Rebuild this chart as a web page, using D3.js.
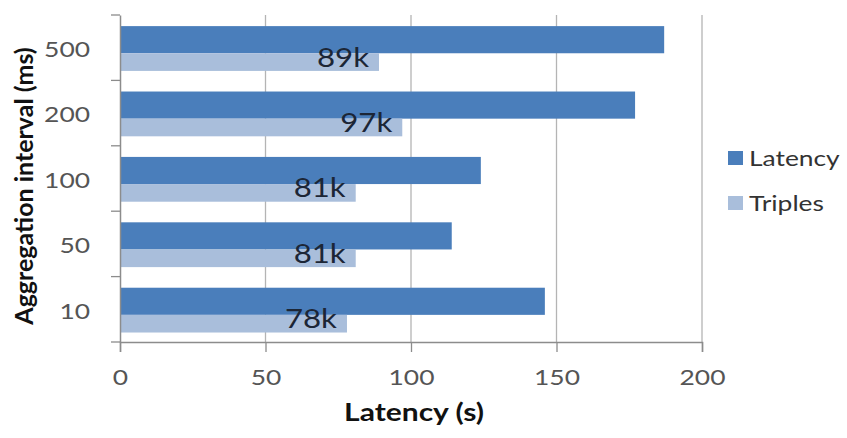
<!DOCTYPE html>
<html>
<head>
<meta charset="utf-8">
<script src="https://cdn.jsdelivr.net/npm/d3@7"></script>
<style>
  body { margin: 0; background: #fff; }
  text { font-family: Lato, "Open Sans", sans-serif; }
</style>
</head>
<body>
<svg id="chart" width="847" height="438"></svg>
<script>
// Aggregation interval categories (top to bottom) and the two series
const categories = ["500", "200", "100", "50", "10"];
const latency = [187, 177, 124, 114, 146];
const triples = [89, 97, 81, 81, 78];
const tripleLabels = ["89k", "97k", "81k", "81k", "78k"];
const xTicks = [0, 50, 100, 150, 200];
const seriesNames = ["Latency", "Triples"];
const seriesColors = ["#4A7EBB", "#A9BEDB"];

const svg = d3.select("#chart");
const SX = 1.2; // horizontal widening applied to horizontal text

const x = d3.scaleLinear().domain([0, 200]).range([120, 702]);
const y = d3.scaleBand().domain(categories).range([15, 342]).padding(0);
const bw = y.bandwidth();

// vertical gridlines
svg.append("g")
  .selectAll("line")
  .data(xTicks.filter(d => d > 0))
  .join("line")
  .attr("x1", d => x(d)).attr("x2", d => x(d))
  .attr("y1", 15).attr("y2", 342)
  .attr("stroke", "#b4b4b4").attr("stroke-width", 1.3);

// bars: latency on top, triples beneath within each category band
const rows = categories.map((c, i) => ({ c, lat: latency[i], tri: triples[i], lab: tripleLabels[i] }));

svg.append("g").selectAll("rect")
  .data(rows).join("rect")
  .attr("x", x(0))
  .attr("y", d => y(d.c) + bw * 0.17)
  .attr("width", d => x(d.lat) - x(0))
  .attr("height", bw * 0.415)
  .attr("fill", seriesColors[0]);

svg.append("g").selectAll("rect")
  .data(rows).join("rect")
  .attr("x", x(0))
  .attr("y", d => y(d.c) + bw * 0.585)
  .attr("width", d => x(d.tri) - x(0))
  .attr("height", bw * 0.27)
  .attr("fill", seriesColors[1]);

// value labels for triples
svg.append("g").selectAll("g")
  .data(rows).join("g")
  .attr("transform", d => `translate(${x(d.tri) - 10},${y(d.c) + bw * 0.79})`)
  .append("text")
  .attr("transform", `scale(${SX},1)`)
  .attr("text-anchor", "end")
  .attr("font-size", 26)
  .attr("fill", "#1c2636")
  .text(d => d.lab);

// bottom axis
const xAxis = svg.append("g")
  .attr("transform", "translate(0,342)")
  .call(d3.axisBottom(x).tickValues(xTicks).tickSize(10).tickPadding(17));
xAxis.select(".domain").attr("stroke", "#8c8c8c").attr("stroke-width", 1.5);
xAxis.selectAll(".tick line").attr("stroke", "#8c8c8c").attr("stroke-width", 1.3);
xAxis.selectAll(".tick text")
  .attr("font-size", 22).attr("fill", "#555")
  .attr("transform", `scale(${SX},1)`);

// left axis: labels at category centres, tick marks at category boundaries
const yAxis = svg.append("g")
  .attr("transform", "translate(120,0)")
  .call(d3.axisLeft(y).tickSize(0).tickPadding(25));
yAxis.select(".domain").attr("stroke", "#8c8c8c").attr("stroke-width", 1.5);
yAxis.selectAll(".tick text")
  .attr("font-size", 22).attr("fill", "#555").attr("dy", "0.42em")
  .attr("transform", `scale(${SX},1)`);
const bounds = categories.map(c => y(c)).concat([y.range()[1]]);
yAxis.append("g").selectAll("line")
  .data(bounds).join("line")
  .attr("x1", -9).attr("x2", 0)
  .attr("y1", d => d).attr("y2", d => d)
  .attr("stroke", "#8c8c8c").attr("stroke-width", 1.3);

// axis titles
svg.append("g").attr("transform", "translate(414,421)")
  .append("text")
  .attr("transform", `scale(${SX},1)`)
  .attr("text-anchor", "middle")
  .attr("font-size", 25).attr("font-weight", "bold").attr("fill", "#111")
  .text("Latency (s)");

svg.append("text")
  .attr("transform", "translate(33,186) rotate(-90)")
  .attr("text-anchor", "middle")
  .attr("font-size", 25).attr("font-weight", "bold").attr("fill", "#111")
  .text("Aggregation interval (ms)");

// legend
const legend = svg.append("g").selectAll("g")
  .data(seriesNames).join("g")
  .attr("transform", (d, i) => `translate(728,${158 + i * 45})`);
legend.append("rect")
  .attr("x", 0).attr("y", -7).attr("width", 15).attr("height", 14)
  .attr("fill", (d, i) => seriesColors[i]);
legend.append("g").attr("transform", "translate(21,0)")
  .append("text")
  .attr("transform", `scale(${SX},1)`)
  .attr("dy", "0.36em")
  .attr("font-size", 22).attr("fill", "#333")
  .text(d => d);
</script>
</body>
</html>
